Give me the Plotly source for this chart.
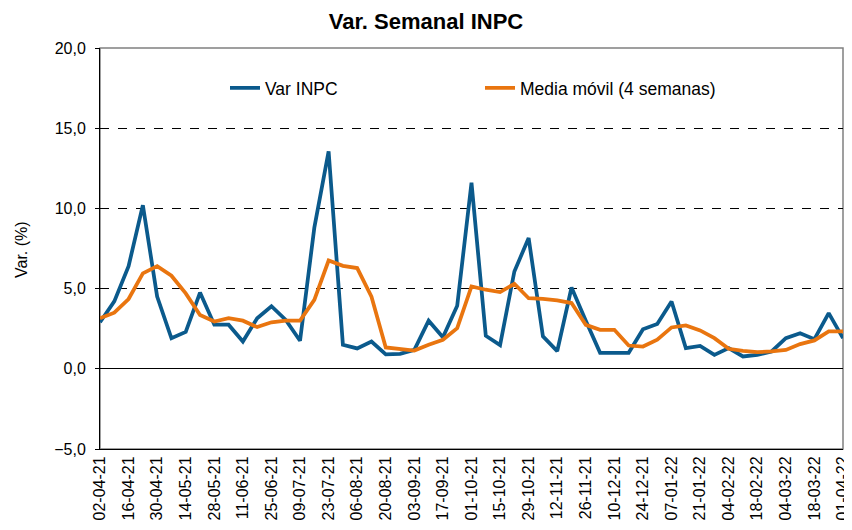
import plotly.graph_objects as go

tick_labels = ["02-04-21", "16-04-21", "30-04-21", "14-05-21", "28-05-21", "11-06-21",
               "25-06-21", "09-07-21", "23-07-21", "06-08-21", "20-08-21", "03-09-21",
               "17-09-21", "01-10-21", "15-10-21", "29-10-21", "12-11-21", "26-11-21",
               "10-12-21", "24-12-21", "07-01-22", "21-01-22", "04-02-22", "18-02-22",
               "04-03-22", "18-03-22", "01-04-22"]

var_inpc = [2.9, 4.2, 6.4, 10.2, 4.5, 1.9, 2.3, 4.75, 2.75, 2.75, 1.7, 3.15, 3.9, 3.05,
            1.75, 8.8, 13.55, 1.5, 1.27, 1.7, 0.9, 0.93, 1.18, 3.0, 1.97, 3.93, 11.6,
            2.06, 1.48, 6.07, 8.15, 2.02, 1.1, 5.07, 3.0, 1.0, 1.0, 1.0, 2.47, 2.8, 4.2,
            1.29, 1.43, 0.87, 1.29, 0.77, 0.87, 1.08, 1.91, 2.22, 1.85, 3.47, 1.91]

media_movil = [3.15, 3.5, 4.35, 5.95, 6.4, 5.8, 4.7, 3.35, 2.95, 3.15, 3.0, 2.6, 2.9, 3.0,
               3.0, 4.3, 6.75, 6.42, 6.28, 4.5, 1.33, 1.23, 1.14, 1.5, 1.81, 2.53, 5.13,
               4.93, 4.78, 5.3, 4.4, 4.36, 4.26, 4.1, 2.74, 2.43, 2.43, 1.45, 1.39, 1.81,
               2.58, 2.7, 2.39, 1.91, 1.25, 1.12, 1.04, 1.08, 1.18, 1.54, 1.77, 2.33, 2.33]

x = list(range(len(var_inpc)))
tick_vals = list(range(0, len(var_inpc), 2))

BLUE = "#0B5A8C"
ORANGE = "#E9750F"
FONT = "Liberation Sans, Arial, sans-serif"

W, H = 844, 512
L, R, T = 92, 9, 40
PLOT_BOTTOM = 441
B = H - PLOT_BOTTOM
PW, PH = W - L - R, PLOT_BOTTOM - T

fig = go.Figure()
fig.add_trace(go.Scatter(x=x, y=var_inpc, mode="lines", name="Var INPC",
                         line=dict(color=BLUE, width=3.75), legend="legend",
                         showlegend=True))
fig.add_trace(go.Scatter(x=x, y=media_movil, mode="lines", name="Media móvil (4 semanas)",
                         line=dict(color=ORANGE, width=3.75), legend="legend2",
                         showlegend=True))

legend_common = dict(orientation="h", yanchor="middle", xanchor="left",
                     font=dict(family=FONT, size=17.5, color="#000000"),
                     bgcolor="rgba(0,0,0,0)", itemwidth=30)

fig.update_layout(
    width=W, height=H,
    margin=dict(l=L, r=R, t=T, b=B),
    paper_bgcolor="white", plot_bgcolor="white",
    separators=",.",
    showlegend=True,
    font=dict(family=FONT, size=16, color="#000000"),
    title=dict(text="<b>Var. Semanal INPC</b>", x=(426 - 8) / W, xanchor="center",
               y=1 - 13 / H, yanchor="middle", yref="container",
               font=dict(family=FONT, size=22, color="#000000")),
    legend=dict(x=(217 - L) / PW, y=(PLOT_BOTTOM - 80) / PH, **legend_common),
    legend2=dict(x=(472 - L) / PW, y=(PLOT_BOTTOM - 80) / PH, **legend_common),
    xaxis=dict(range=[0, len(var_inpc) - 1], tickvals=tick_vals, ticktext=tick_labels,
               tickangle=-90, tickfont=dict(family=FONT, size=16, color="#000000"),
               showgrid=False, zeroline=False, showline=True, linecolor="#000000",
               linewidth=1, ticks="", automargin=False),
    yaxis=dict(range=[-5, 20], dtick=5, tick0=0, tickformat=".1f",
               tickfont=dict(family=FONT, size=16, color="#000000"),
               showgrid=True, gridcolor="#000000", griddash="dash", gridwidth=1,
               zeroline=True, zerolinecolor="#000000", zerolinewidth=1,
               showline=True, linecolor="#000000", linewidth=1,
               ticks="outside", ticklen=4, tickcolor="#000000", ticklabelstandoff=6,
               automargin=False),
    shapes=[dict(type="rect", xref="paper", yref="paper", x0=0, x1=1, y0=0, y1=1,
                 line=dict(color="#808080", width=1.5), layer="below")],
    annotations=[dict(text="Var. (%)", xref="paper", yref="paper",
                      x=(14 - L) / PW, y=(PLOT_BOTTOM - 242) / PH, xanchor="center",
                      yanchor="middle", textangle=-90, showarrow=False,
                      font=dict(family=FONT, size=16, color="#000000"))],
)

fig.write_html("out.html")
